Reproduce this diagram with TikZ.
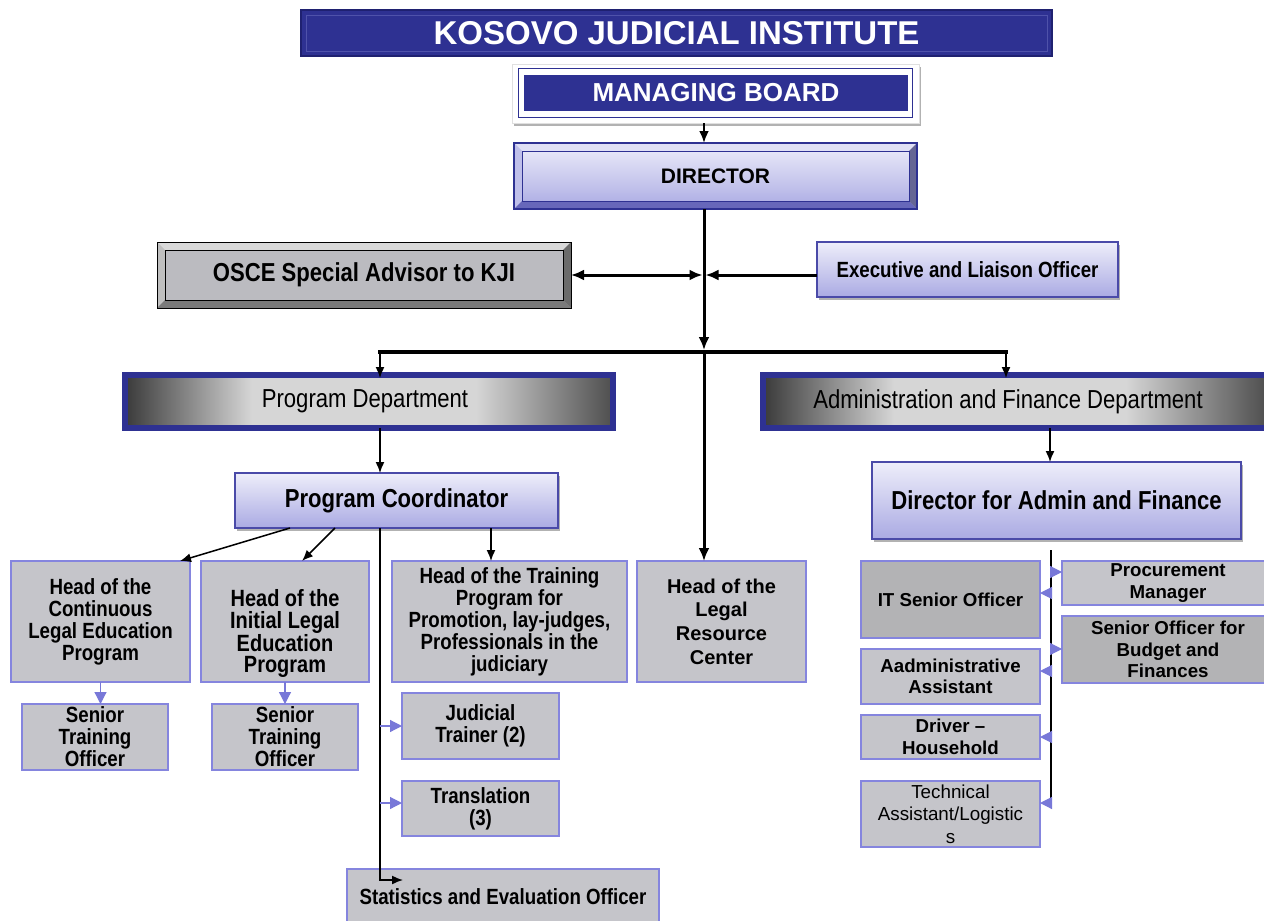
\documentclass[tikz,border=0pt]{standalone}
\usepackage{fontspec}
\setmainfont{Liberation Sans}
\newfontfamily\nf[FakeStretch=0.85]{Liberation Sans}
\usetikzlibrary{arrows.meta,shadows}
\definecolor{navy}{HTML}{2E3192}
\definecolor{navyd}{HTML}{1F2170}
\definecolor{navyl}{HTML}{4F52AA}
\definecolor{lavT}{HTML}{EEEEFA}
\definecolor{lavB}{HTML}{AAAAE3}
\definecolor{lavE}{HTML}{4A4AA8}
\definecolor{boxg}{HTML}{C5C5CA}
\definecolor{boxd}{HTML}{B3B3B5}
\definecolor{boxe}{HTML}{8585DE}
\definecolor{larr}{HTML}{7878D8}
\definecolor{shdk}{HTML}{3A3A3A}
\definecolor{shdkb}{HTML}{4E4E4E}
\definecolor{shlt}{HTML}{D6D6D6}
\pgfdeclarehorizontalshading{deptsh}{100bp}{color(0bp)=(shdk); color(25bp)=(shdk); color(38bp)=(shlt); color(61bp)=(shlt); color(75bp)=(shdkb); color(100bp)=(shdkb)}
\newcommand\fs[2]{\fontsize{#1}{#2}\selectfont}
\newcommand\bnode[7]{\node[#1, minimum width={(#5-#3)*1pt}, minimum height={(#6-#4)*1pt}] (#2) at ({(#3+#5)/2},{(#4+#6)/2}) {#7};}
\newcommand\bevel[6]{%
 \fill[#3] (#1.north west) -- (#1.north east) -- ([xshift=-#2,yshift=-#2]#1.north east) -- ([xshift=#2,yshift=-#2]#1.north west) -- cycle;
 \fill[#4] (#1.north west) -- ([xshift=#2,yshift=-#2]#1.north west) -- ([xshift=#2,yshift=#2]#1.south west) -- (#1.south west) -- cycle;
 \fill[#5] (#1.south west) -- ([xshift=#2,yshift=#2]#1.south west) -- ([xshift=-#2,yshift=#2]#1.south east) -- (#1.south east) -- cycle;
 \fill[#6] (#1.south east) -- ([xshift=-#2,yshift=#2]#1.south east) -- ([xshift=-#2,yshift=-#2]#1.north east) -- (#1.north east) -- cycle;}
\begin{document}
\begin{tikzpicture}[x=1pt,y=-1pt,
  every node/.style={inner sep=0pt,outer sep=0pt,align=center},
  gbox/.style={draw=boxe,line width=1.5pt,fill=boxg},
  dbox/.style={gbox,fill=boxd},
  lav/.style={draw=lavE,line width=1.3pt,top color=lavT,bottom color=lavB},
  shad/.style={drop shadow={shadow xshift=2pt,shadow yshift=-2.5pt,fill=black,opacity=.3}},
  nb/.style={font=\nf\bfseries\fs{22}{22}},
  rb/.style={font=\bfseries\fs{18.7}{21.5}},
  thk/.style={line width=3pt,-{Latex[length=13pt,width=11pt]}},
  thn/.style={line width=1.5pt,-{Latex[length=11pt,width=9pt]}},
  la/.style={larr,line width=1.2pt,-{Triangle[length=12pt,width=12pt]}},
]
\fill[white] (0,0) rectangle (1264,921);
\useasboundingbox (0,0) rectangle (1264,921);
\clip (0,0) rectangle (1264,921);

\coordinate (j) at (704,352);
\coordinate (jo) at (704,275);
\coordinate (jl) at (380,352);
\coordinate (jr) at (1006,352);
\coordinate (xa) at (1050,0);
\coordinate (xv) at (380,0);
\coordinate (x1) at (290,0);
\coordinate (x2) at (335,0);
\coordinate (x3) at (491,0);
\coordinate (xr) at (1051,0);
\coordinate (sa) at (403,880);
\coordinate (r1) at (1051,550);
\coordinate (r2) at (1051,808);

% title
\bnode{fill=navy,draw=navyd,line width=1.5pt,font=\bfseries\fs{33}{33},text=white}{title}{301}{10}{1052}{56}{KOSOVO JUDICIAL INSTITUTE}
\draw[navyl,line width=1pt] ([xshift=5pt,yshift=-5pt]title.north west) rectangle ([xshift=-5pt,yshift=5pt]title.south east);

% managing board
\bnode{fill=white,draw=black!12,line width=.8pt,shad}{mbo}{512}{64}{919}{123}{}
\draw[navy,line width=1pt] ([xshift=6pt,yshift=-4pt]mbo.north west) rectangle ([xshift=-7pt,yshift=6pt]mbo.south east);
\bnode{fill=navy,font=\bfseries\fs{26}{26},text=white}{mb}{524}{75}{908}{111}{MANAGING BOARD}

% director
\bnode{lav,draw=navy,line width=1.2pt,font=\bfseries\fs{21}{21}}{dir}{514}{143}{917}{209}{DIRECTOR}
\bevel{dir}{8pt}{lavT!80!lavB}{lavB!75!white}{lavE!70!lavB}{lavE!50!gray}
\draw[navy,line width=1.2pt] (dir.north west) rectangle (dir.south east);
\draw[navy,line width=.6pt] ([xshift=8pt,yshift=-8pt]dir.north west) rectangle ([xshift=-8pt,yshift=8pt]dir.south east);

% OSCE
\bnode{fill=boxg!95!black,font=\nf\bfseries\fs{26}{26}}{osce}{157}{242}{571}{308}{OSCE Special Advisor to KJI}
\bevel{osce}{8pt}{black!15}{black!25}{black!52}{black!58}
\draw[black,line width=1pt] (osce.north west) rectangle (osce.south east);
\draw[black,line width=.6pt] ([xshift=8pt,yshift=-8pt]osce.north west) rectangle ([xshift=-8pt,yshift=8pt]osce.south east);

% executive
\bnode{lav,shad,font=\nf\bfseries\fs{22}{22}}{exec}{817}{242}{1118}{297}{Executive and Liaison Officer}

% departments
\bnode{shade,shading=deptsh,draw=navy,line width=6.5pt,font=\nf\fs{26}{26}}{pd}{125}{375}{613}{428}{\hspace*{-8pt}Program Department}
\bnode{shade,shading=deptsh,draw=navy,line width=6.5pt,font=\nf\fs{26}{26}}{ad}{763}{375}{1267}{428}{\hspace*{-14pt}Administration and Finance Department}

% coordinators
\bnode{lav,shad,font=\nf\bfseries\fs{26}{26}}{pc}{235}{473}{558}{528}{Program Coordinator}
\bnode{lav,shad,font=\nf\bfseries\fs{26}{26}}{daf}{872}{462}{1241}{539}{Director for Admin and Finance}

% program side boxes
\bnode{gbox,nb}{hcl}{11}{561}{190}{682}{Head of the\\Continuous\\Legal Education\\Program}
\bnode{gbox,label={[font=\nf\bfseries\fs{23.5}{21.5},align=center,yshift=-12pt]center:Head of the\\Initial Legal\\Education\\Program}}{hil}{201}{561}{369}{682}{}
\bnode{gbox,nb}{htp}{392}{561}{627}{682}{Head of the Training\\Program for\\Promotion, lay-judges,\\Professionals in the\\judiciary}
\bnode{gbox,font=\bfseries\fs{20}{23.7}}{lrc}{637}{561}{806}{682}{Head of the\\Legal\\Resource\\Center}
\bnode{gbox,nb}{sto1}{22}{704}{168}{770}{Senior\\Training\\Officer}
\bnode{gbox,nb}{sto2}{212}{704}{358}{770}{Senior\\Training\\Officer}
\bnode{gbox,nb}{jt}{402}{693}{559}{759}{Judicial\\Trainer (2)}
\bnode{gbox,nb}{tr}{402}{781}{559}{836}{Translation\\(3)}
\bnode{gbox,nb}{se}{347}{869}{659}{925}{Statistics and Evaluation Officer}

% admin side boxes
\bnode{dbox,rb}{it}{861}{561}{1040}{638}{IT Senior Officer}
\bnode{gbox,rb}{aa}{861}{649}{1040}{704}{Aadministrative\\Assistant}
\bnode{gbox,rb}{dr}{861}{715}{1040}{759}{Driver --\\Household}
\bnode{gbox,font=\fs{18.8}{22.5}}{ta}{861}{781}{1040}{847}{Technical\\Assistant/Logistic\\s}
\bnode{gbox,rb}{pm}{1062}{561}{1274}{605}{Procurement\\Manager}
\bnode{dbox,rb}{sob}{1062}{616}{1274}{683}{Senior Officer for\\Budget and\\Finances}

% main connectors
\draw[line width=2.5pt,-{Latex[length=12pt,width=10pt]}] (mbo.south -| j) -- (dir.north -| j);
\draw[thk,shorten >=2pt] (dir.south -| j) -- (j);
\draw[thk] (j) -- (lrc.north -| j);
\draw[line width=3pt,{Latex[length=13pt,width=11pt]}-{Latex[length=13pt,width=11pt]}] (osce.east |- jo) -- ([xshift=-1.5pt]jo);
\draw[thk] (exec.west |- jo) -- ([xshift=1.5pt]jo);
\draw[line width=4pt,line cap=rect] (jl) -- (jr);
\draw[thn,shorten >=-3pt] (jl) -- (pd.north -| jl);
\draw[thn,shorten >=-3pt] (jr) -- (ad.north -| jr);
\draw[thn] (pd.south -| jl) -- (pc.north -| jl);
\draw[thn] (ad.south -| xa) -- (daf.north -| xa);

% program coordinator connectors
\draw[thn] (pc.south -| x1) -- ([xshift=-10pt]hcl.north east);
\draw[thn] (pc.south -| x2) -- ([xshift=17pt]hil.north);
\draw[thn] (pc.south -| x3) -- (htp.north -| x3);
\draw[thn] (pc.south -| xv) |- (sa);
\draw[la] (jt.west -| xv) -- (jt.west);
\draw[la] (xv |- 0,803) -- (tr.west |- 0,803);
\draw[la] (hcl.south) -- (hcl.south |- sto1.north);
\draw[la] (hil.south) -- (hil.south |- sto2.north);

% admin connectors
\draw[line width=1.5pt] (r1) -- (r2);
\draw[la] (xr |- 0,572) -- (pm.west |- 0,572);
\draw[la] (xr |- 0,649) -- (sob.west |- 0,649);
\draw[la] (xr |- 0,593) -- (it.east |- 0,593);
\draw[la] (xr |- 0,671) -- (aa.east |- 0,671);
\draw[la] (xr |- 0,737) -- (dr.east |- 0,737);
\draw[la] (xr |- 0,803) -- (ta.east |- 0,803);
\end{tikzpicture}
\end{document}
